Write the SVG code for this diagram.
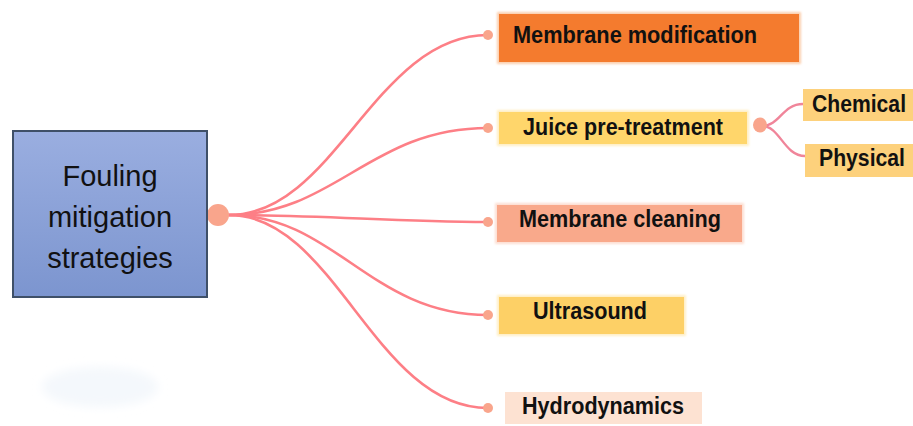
<svg xmlns="http://www.w3.org/2000/svg" width="913" height="426" viewBox="0 0 913 426">
  <defs>
    <linearGradient id="mainGrad" x1="0" y1="0" x2="0" y2="1">
      <stop offset="0" stop-color="#9aaee0"/>
      <stop offset="1" stop-color="#7c95cf"/>
    </linearGradient>
    <filter id="soft" x="-10%" y="-30%" width="120%" height="160%">
      <feGaussianBlur stdDeviation="1.2"/>
    </filter>
    <filter id="blob" x="-30%" y="-60%" width="160%" height="220%">
      <feGaussianBlur stdDeviation="5"/>
    </filter>
  </defs>
  <style>
    .main { font-family: "Liberation Sans", Arial, sans-serif; font-size: 29px; fill: #111; text-anchor: middle; }
    .lbl { font-family: "Liberation Sans", Arial, sans-serif; font-size: 23px; font-weight: bold; fill: #111; }
    .conn { fill: none; stroke: #fd7f86; stroke-width: 2.6; stroke-linecap: round; }
    .conn2 { fill: none; stroke: #f0859a; stroke-width: 2.4; stroke-linecap: round; }
    .dot { fill: #f9a58c; }
    .glow { filter: url(#soft); opacity: 0.5; }
  </style>
  <rect width="913" height="426" fill="#ffffff"/>
  <ellipse cx="100" cy="387" rx="58" ry="20" fill="#f4f8fc" filter="url(#blob)"/>

  <g id="connectors">
    <path class="conn" d="M229,215 C335,215 375,35 488,35"/>
    <path class="conn" d="M229,215 C335,215 370,128 488,128"/>
    <path class="conn" d="M229,215 C330,215 390,222 488,222"/>
    <path class="conn" d="M229,215 C335,215 370,315 488,315"/>
    <path class="conn" d="M229,215 C335,215 375,408 488,408"/>
    <path class="conn2" d="M762,126 C780,126 782,104 803,104"/>
    <path class="conn2" d="M762,126 C780,126 784,156 805,156"/>
    <circle class="dot" cx="488" cy="35" r="5"/>
    <circle class="dot" cx="488" cy="128" r="5"/>
    <circle class="dot" cx="488" cy="222" r="5"/>
    <circle class="dot" cx="488" cy="315" r="5"/>
    <circle class="dot" cx="488" cy="408" r="5"/>
    <circle class="dot" cx="218" cy="215" r="11"/>
    <ellipse class="dot" cx="760" cy="125" rx="7" ry="7.5"/>
  </g>

  <g id="fouling-mitigation-strategies">
    <rect x="13" y="131" width="194" height="166" fill="url(#mainGrad)" stroke="#3f5068" stroke-width="2"/>
    <text class="main" x="110" y="186">Fouling</text>
    <text class="main" x="110" y="227">mitigation</text>
    <text class="main" x="110" y="268">strategies</text>
  </g>

  <g id="membrane-modification">
    <rect class="glow" x="497" y="12" width="304" height="52" fill="#f9a060"/>
    <rect x="499" y="14" width="300" height="48" fill="#f47b2e"/>
    <text class="lbl" x="513" y="43" textLength="244" lengthAdjust="spacingAndGlyphs">Membrane modification</text>
  </g>

  <g id="juice-pre-treatment">
    <rect class="glow" x="497" y="110" width="252" height="36" fill="#ffe08a"/>
    <rect x="499" y="112" width="248" height="32" fill="#ffd66b"/>
    <text class="lbl" x="523" y="135" textLength="200" lengthAdjust="spacingAndGlyphs">Juice pre-treatment</text>
  </g>

  <g id="chemical">
    <rect x="803" y="89" width="112" height="32" fill="#fdd17c"/>
    <text class="lbl" x="812" y="112" textLength="94" lengthAdjust="spacingAndGlyphs">Chemical</text>
  </g>

  <g id="physical">
    <rect x="805" y="144" width="110" height="33" fill="#fdd17c"/>
    <text class="lbl" x="819" y="166" textLength="86" lengthAdjust="spacingAndGlyphs">Physical</text>
  </g>

  <g id="membrane-cleaning">
    <rect class="glow" x="495" y="203" width="249" height="41" fill="#fbbfa6"/>
    <rect x="497" y="205" width="245" height="37" fill="#f9a98b"/>
    <text class="lbl" x="519" y="227" textLength="202" lengthAdjust="spacingAndGlyphs">Membrane cleaning</text>
  </g>

  <g id="ultrasound">
    <rect class="glow" x="497" y="295" width="189" height="41" fill="#ffe08e"/>
    <rect x="499" y="297" width="185" height="37" fill="#fdd066"/>
    <text class="lbl" x="533" y="319" textLength="114" lengthAdjust="spacingAndGlyphs">Ultrasound</text>
  </g>

  <g id="hydrodynamics">
    <rect x="505" y="392" width="197" height="32" fill="#fde2d2"/>
    <text class="lbl" x="522" y="414" textLength="162" lengthAdjust="spacingAndGlyphs">Hydrodynamics</text>
  </g>
</svg>
